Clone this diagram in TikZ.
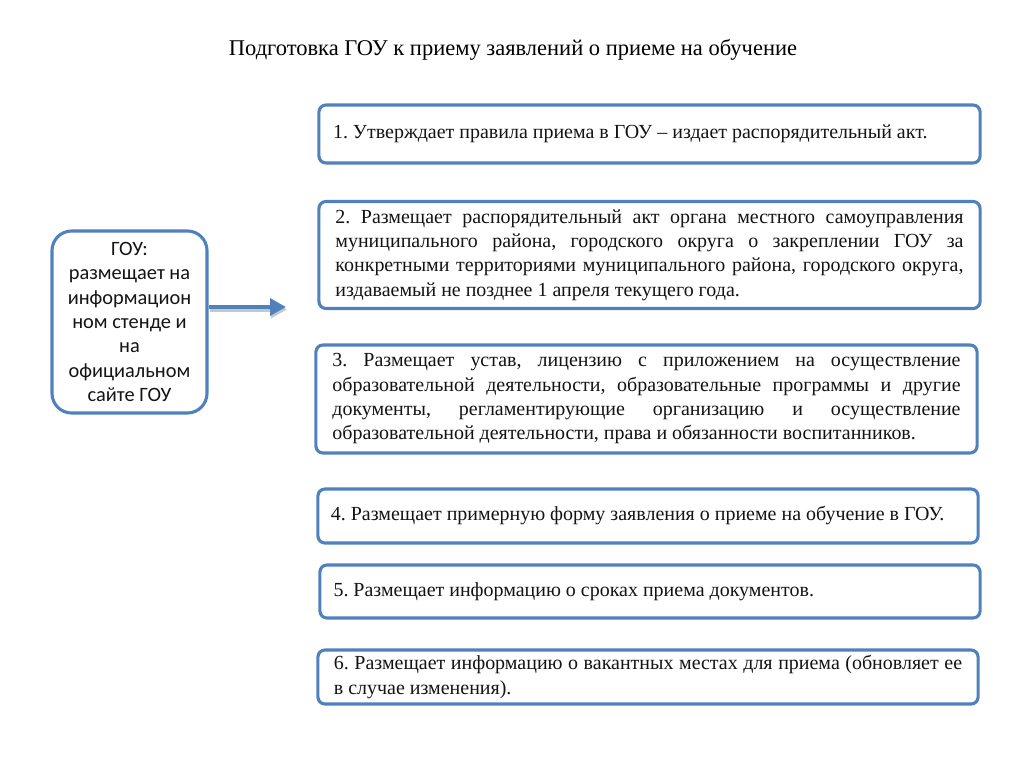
\documentclass[tikz,border=0pt]{standalone}
\usepackage{fontspec}
\setmainfont{Liberation Serif}
\newfontfamily\gouSans{Carlito}
\usetikzlibrary{arrows.meta,positioning,calc}
\definecolor{officeBlue}{RGB}{79,129,189}
\definecolor{inkBlack}{RGB}{20,20,20}
\tikzset{
  item box/.style={draw=officeBlue,line width=2.2pt,rounded corners=5pt,fill=white,text=inkBlack,font=\fontsize{14.2}{17.3}\selectfont,align=justify,inner sep=0pt,minimum width=16.525cm},
  source box/.style={draw=officeBlue,line width=2.2pt,rounded corners=14pt,fill=white,text=inkBlack,font=\gouSans\fontsize{14.5}{17.3}\selectfont,align=center,inner sep=0pt,minimum width=3.875cm,minimum height=4.55cm},
  flow arrow/.style={-{Triangle[length=4mm,width=4.2mm]},line width=3.4pt,draw=officeBlue},
  flow shadow/.style={-{Triangle[length=4mm,width=4.2mm]},line width=3.4pt,draw=black!22}
}

\begin{document}
\frenchspacing
\begin{tikzpicture}[x=0.025cm,y=-0.025cm]
        \useasboundingbox (0,0) rectangle (1024,768);
        \node[font=\fontsize{16}{19}\selectfont] (title) at (513,50) {Подготовка ГОУ к приему заявлений о приеме на обучение};
        \node[source box] (gou) at (129.5,322) {ГОУ:\\размещает на\\информацион\\ном стенде и\\на\\официальном\\сайте ГОУ};
        \coordinate (arrowtip) at (286,307);
        \draw[flow shadow] ($(gou.east |- arrowtip)+(1,2.5)$) -- ($(arrowtip)+(1,2.5)$);
        \draw[flow arrow] (gou.east |- arrowtip) -- (arrowtip);
        \node[item box,minimum height=1.45cm,text width=15.82cm] (s1) at (649.5,134)
          {1. Утверждает правила приема в ГОУ -- издает распорядительный акт.};
        \node[item box,minimum height=2.675cm,text width=15.7cm] (s2) at (649.5,255)
          {2. Размещает распорядительный акт органа местного самоуправления муниципального района, городского округа о закреплении ГОУ за конкретными территориями муниципального района, городского округа, издаваемый не позднее 1 апреля текущего года.};
        \node[item box,minimum height=2.7cm,text width=15.7cm] (s3) at (646.5,399)
          {3. Размещает устав, лицензию с приложением на осуществление образовательной деятельности, образовательные программы и другие документы, регламентирующие организацию и осуществление образовательной деятельности, права и обязанности воспитанников.};
        \node[item box,minimum height=1.35cm,text width=15.85cm,minimum width=16.5cm] (s4) at (648,516)
          {4. Размещает примерную форму заявления о приеме на обучение в ГОУ.};
        \node[item box,minimum height=1.325cm,text width=15.82cm,minimum width=16.5cm] (s5) at (650,591.5)
          {5. Размещает информацию о сроках приема документов.};
        \node[item box,minimum height=1.35cm,text width=15.7cm,minimum width=16.5cm] (s6) at (648,677)
          {6. Размещает информацию о вакантных местах для приема (обновляет ее в случае изменения).};
      \end{tikzpicture}
\end{document}
